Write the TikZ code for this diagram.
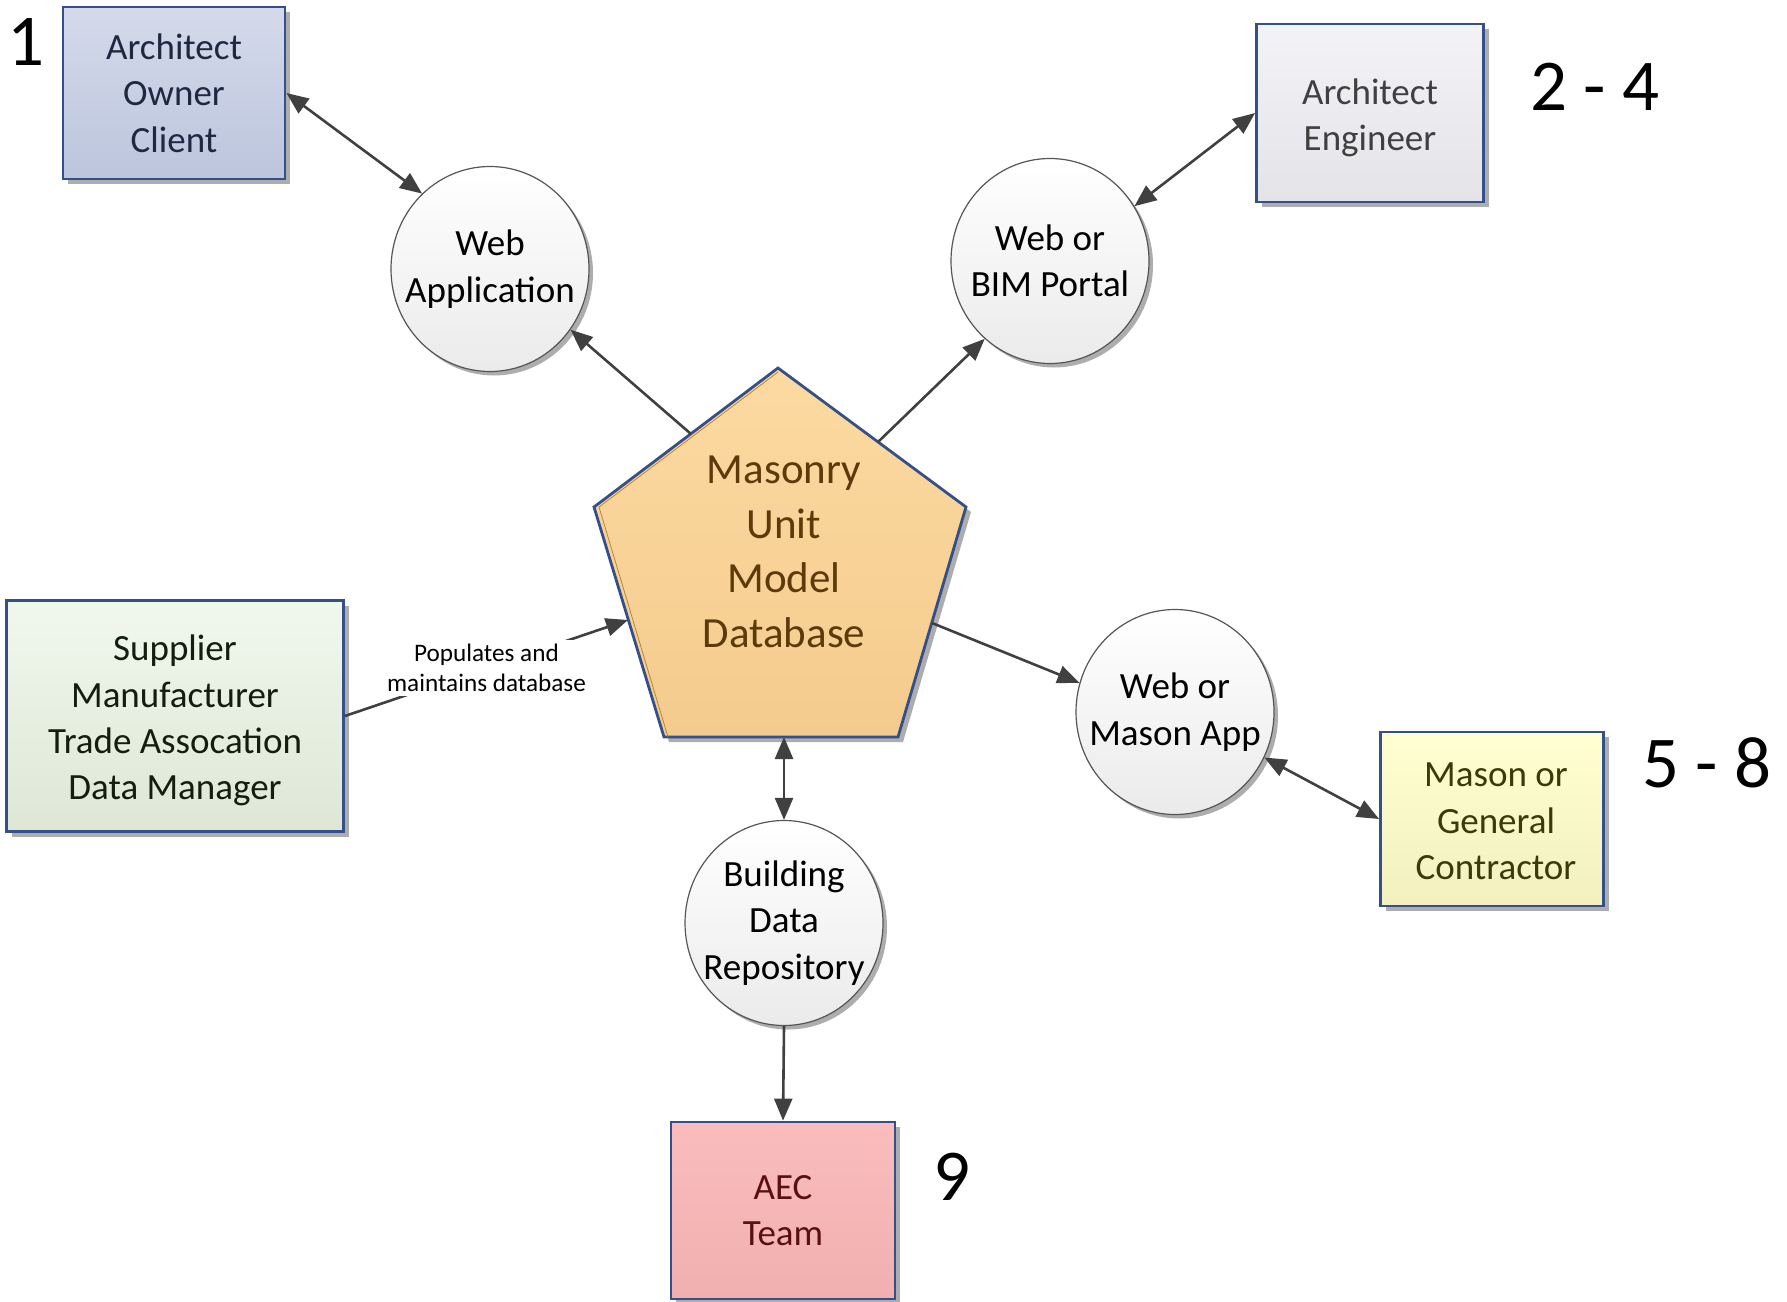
\documentclass[tikz,border=0pt]{standalone}
\usepackage{fontspec}
\setmainfont{Carlito}
\usetikzlibrary{shapes.geometric,shadows,arrows.meta}
\definecolor{navy}{HTML}{34508A}
\definecolor{arrgray}{HTML}{404040}
\definecolor{circedge}{HTML}{555555}
\newcommand{\dgbody}{\fontsize{18.5}{23.2}\selectfont}
\newcommand{\dgbig}{\fontsize{21.5}{27.3}\selectfont}
\newcommand{\dgsmall}{\fontsize{12.6}{15}\selectfont}
\newcommand{\dgnum}{\fontsize{36.5}{40}\selectfont}
\begin{document}
\begin{tikzpicture}[x=0.5pt,y=-0.5pt,
  box/.style={draw=navy, line width=1.4pt, inner sep=0pt, align=center, font=\dgbody,
    drop shadow={shadow xshift=2.5pt, shadow yshift=-2.5pt, fill=black!32, opacity=1}},
  circ/.style={ellipse, draw=circedge, line width=0.6pt, inner xsep=-30pt, inner ysep=0pt, align=center, font=\dgbody,
    minimum width=99pt, minimum height=102.5pt, top color=white, bottom color=black!8,
    drop shadow={shadow xshift=2pt, shadow yshift=-2pt, fill=black!32, opacity=1}},
  num/.style={font=\dgnum, inner sep=0pt},
  conn/.style={draw=arrgray, line width=1.3pt, -{Triangle[length=11pt,width=9pt]}},
  both/.style={draw=arrgray, line width=1.3pt, {Triangle[length=11pt,width=9pt]}-{Triangle[length=11pt,width=9pt]}}
]
\useasboundingbox (0,0) rectangle (1787,1301);

% boxes
\node[box, minimum width=111pt, minimum height=86pt, top color={rgb,255:red,212;green,218;blue,235}, bottom color={rgb,255:red,188;green,197;blue,221}, text={rgb,255:red,30;green,40;blue,64}] (b1) at (174,93) {Architect\\Owner\\Client};
\node[box, minimum width=113.5pt, minimum height=89pt, top color={rgb,255:red,243;green,242;blue,246}, bottom color={rgb,255:red,228;green,227;blue,232}, text={rgb,255:red,64;green,64;blue,64}] (ae) at (1370,113) {\parbox{100pt}{\centering\vspace*{4.6pt}Architect\\Engineer}};
\node[box, minimum width=168.5pt, minimum height=115.5pt, top color={rgb,255:red,241;green,247;blue,237}, bottom color={rgb,255:red,222;green,231;blue,214}, text={rgb,255:red,20;green,30;blue,15}] (sup) at (175,716) {\parbox{160pt}{\centering\vspace*{4.6pt}Supplier\\Manufacturer\\Trade Assocation\\Data Manager}};
\node[box, minimum width=111.5pt, minimum height=87pt, top color={rgb,255:red,255;green,255;blue,210}, bottom color={rgb,255:red,242;green,240;blue,190}, text={rgb,255:red,59;green,58;blue,10}] (gc) at (1492,819) {\hspace*{4pt}\parbox{100pt}{\centering\vspace*{2.4pt}Mason or\\General\\Contractor}};
\node[box, minimum width=112pt, minimum height=88.5pt, top color={rgb,255:red,250;green,188;blue,189}, bottom color={rgb,255:red,241;green,176;blue,175}, text={rgb,255:red,90;green,16;blue,16}] (aec) at (783,1210.5) {AEC\\Team};

% numbers
\node[num] (n1) at (26,42) {1};
\node[num] (n24) at (1595,87) {2 - 4};
\node[num] (n58) at (1707,763) {5 - 8};
\node[num] (n9) at (952,1177) {9};

% circles
\node[circ] (wa) at (490,269) {Web\\Application};
\node[circ] (bim) at (1050,261) {Web or\\BIM Portal};
\node[circ] (ma) at (1175,712) {Web or\\Mason App};
\node[circ] (bdr) at (784,923) {Building\\Data\\Repository};

% pentagon
\coordinate (pT) at (778,368);
\coordinate (pUR) at (966,507);
\coordinate (pLR) at (898,737);
\coordinate (pLL) at (664,737);
\coordinate (pUL) at (594,507);
\draw[draw=navy, line width=1.4pt, top color={rgb,255:red,252;green,218;blue,161}, bottom color={rgb,255:red,244;green,203;blue,142},
  drop shadow={shadow xshift=2.5pt, shadow yshift=-2.5pt, fill=black!32, opacity=1}]
  (pT) -- (pUR) -- (pLR) -- (pLL) -- (pUL) -- cycle;
\draw[draw={rgb,255:red,190;green,130;blue,50}, line width=0.4pt] ([xshift=0pt,yshift=-2pt]pT) -- ([xshift=2.5pt]pUL) -- ([xshift=2pt]pLL);
\node[font=\dgbig, align=center, text={rgb,255:red,92;green,58;blue,10}, inner sep=0pt] (db) at (784,552) {Masonry\\Unit\\Model\\Database};

\coordinate (pwa) at (691,434);
\coordinate (pbim) at (878,442);
\coordinate (pma) at (932,623);
\coordinate (pl) at (628,620);
\coordinate (pb) at (784,737);

% connectors
\draw[both] (b1.east) -- (wa.132);
\draw[both] (ae.west) -- (bim.33);
\draw[conn] (pwa) -- (wa.-37);
\draw[conn] (pbim) -- (bim.230);
\draw[conn] (pma) -- (ma.163);
\draw[both] (ma.-27) -- (gc.west);
\draw[both] (pb) -- (bdr.north);
\draw[conn] (bdr.south) -- (aec.north);
\draw[conn] (sup.east) -- (pl) node[pos=0.5, fill=white, inner sep=2pt, font=\dgsmall, align=center, text=black] (lab) {Populates and\\maintains database};
\end{tikzpicture}
\end{document}
